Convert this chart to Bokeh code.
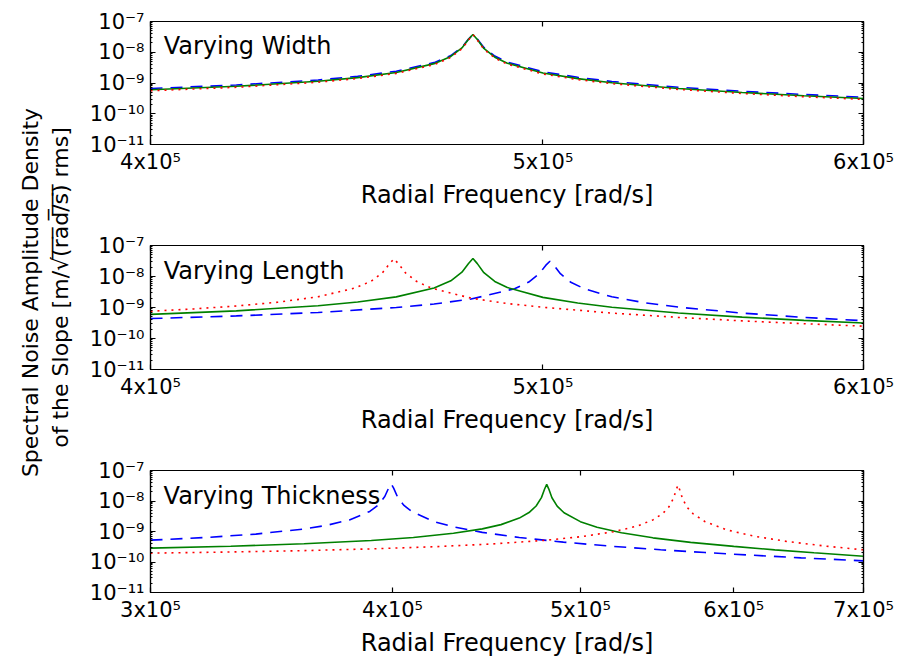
import math
from bokeh.plotting import figure
from bokeh.layouts import row, column
from bokeh.models import Range1d, FixedTicker, LogAxis, CustomJSTickFormatter, Label, ColumnDataSource
from bokeh.core.properties import value
from bokeh.embed import file_html
from bokeh.resources import INLINE

# ---------------- data (frequencies in units of 1e5 rad/s) ----------------
# Panel 1: Varying Width
width_freq = [4.0, 4.2, 4.4, 4.5, 4.6, 4.7, 4.745, 4.775, 4.793, 4.805, 4.817,
              4.835, 4.865, 4.9, 5.0, 5.1, 5.2, 5.4, 5.6, 5.8, 6.0]
width_green = [6.0e-10, 7.8e-10, 1.14e-9, 1.5e-9, 2.2e-9, 4.26e-9, 7.28e-9, 1.38e-8, 2.64e-8, 3.79e-8, 2.6e-8,
               1.33e-8, 6.9e-9, 4.4e-9, 2.12e-9, 1.39e-9, 1.02e-9, 6.65e-10, 4.9e-10, 3.85e-10, 3.15e-10]
width_blue = [6.6e-10, 8.6e-10, 1.25e-9, 1.65e-9, 2.42e-9, 4.6e-9, 7.8e-9, 1.45e-8, 2.7e-8, 3.7e-8, 2.7e-8,
              1.43e-8, 7.5e-9, 4.8e-9, 2.33e-9, 1.53e-9, 1.12e-9, 7.3e-10, 5.4e-10, 4.23e-10, 3.45e-10]
width_red = [5.6e-10, 7.25e-10, 1.06e-9, 1.4e-9, 2.05e-9, 3.96e-9, 6.8e-9, 1.3e-8, 2.5e-8, 3.8e-8, 2.5e-8,
             1.26e-8, 6.5e-9, 4.1e-9, 1.97e-9, 1.29e-9, 9.5e-10, 6.2e-10, 4.55e-10, 3.58e-10, 2.93e-10]

# Panel 2: Varying Length
length_green_freq = width_freq
length_green = width_green
length_red_freq = [4.0, 4.1, 4.2, 4.3, 4.4, 4.494, 4.534, 4.564, 4.582, 4.594, 4.606,
                   4.624, 4.654, 4.694, 4.8, 4.9, 5.0, 5.2, 5.4, 5.6, 5.8, 6.0]
length_red = [7.6e-10, 9.0e-10, 1.12e-9, 1.48e-9, 2.22e-9, 4.27e-9, 6.95e-9, 1.32e-8, 2.55e-8, 3.7e-8, 2.55e-8,
              1.31e-8, 6.87e-9, 4.18e-9, 2.0e-9, 1.34e-9, 1.02e-9, 6.6e-10, 4.8e-10, 3.7e-10, 3.0e-10, 2.5e-10]
length_blue_freq = [4.0, 4.2, 4.4, 4.6, 4.7, 4.8, 4.92, 4.96, 4.99, 5.008, 5.02,
                    5.032, 5.05, 5.08, 5.12, 5.2, 5.3, 5.4, 5.6, 5.8, 6.0]
length_blue = [4.4e-10, 5.35e-10, 6.9e-10, 1.0e-9, 1.3e-9, 1.87e-9, 4.04e-9, 6.6e-9, 1.24e-8, 2.28e-8, 3.1e-8,
               2.27e-8, 1.23e-8, 6.5e-9, 4.0e-9, 2.21e-9, 1.41e-9, 1.03e-9, 6.6e-10, 4.8e-10, 3.75e-10]

# Panel 3: Varying Thickness
thick_green_freq = [3.0, 3.3, 3.6, 3.9, 4.1, 4.3, 4.45, 4.55, 4.65, 4.704, 4.744, 4.774, 4.792, 4.804,
                    4.816, 4.834, 4.864, 4.904, 5.0, 5.1, 5.25, 5.45, 5.7, 6.0, 6.3, 6.6, 7.0]
thick_green = [2.84e-10, 3.28e-10, 3.95e-10, 5.08e-10, 6.38e-10, 8.72e-10, 1.22e-9, 1.68e-9, 2.75e-9, 4.18e-9,
               6.86e-9, 1.29e-8, 2.47e-8, 3.5e-8, 2.46e-8, 1.28e-8, 6.76e-9, 4.12e-9, 2.1e-9, 1.38e-9,
               9.1e-10, 6.2e-10, 4.4e-10, 3.25e-10, 2.5e-10, 2.0e-10, 1.55e-10]
thick_blue_freq = [3.0, 3.2, 3.4, 3.6, 3.7, 3.8, 3.893, 3.933, 3.963, 3.981, 3.993, 4.005, 4.023,
                   4.053, 4.093, 4.2, 4.3, 4.45, 4.65, 4.9, 5.2, 5.5, 5.8, 6.1, 6.5, 7.0]
thick_blue = [5.2e-10, 6.33e-10, 8.23e-10, 1.21e-9, 1.6e-9, 2.4e-9, 4.54e-9, 7.43e-9, 1.4e-8, 2.64e-8, 3.7e-8,
              2.63e-8, 1.39e-8, 7.32e-9, 4.46e-9, 2.13e-9, 1.42e-9, 9.36e-10, 6.36e-10, 4.48e-10, 3.25e-10,
              2.52e-10, 2.04e-10, 1.7e-10, 1.37e-10, 1.09e-10]
thick_red_freq = [3.0, 3.3, 3.6, 3.9, 4.2, 4.5, 4.8, 5.0, 5.2, 5.35, 5.45, 5.515, 5.555, 5.585, 5.603,
                  5.615, 5.627, 5.645, 5.675, 5.715, 5.8, 5.95, 6.15, 6.4, 6.7, 7.0]
thick_red = [1.95e-10, 2.13e-10, 2.36e-10, 2.69e-10, 3.16e-10, 3.89e-10, 5.17e-10, 6.72e-10, 9.78e-10,
             1.51e-9, 2.4e-9, 3.92e-9, 6.43e-9, 1.22e-8, 2.32e-8, 3.3e-8, 2.31e-8, 1.21e-8, 6.35e-9,
             3.87e-9, 2.08e-9, 1.13e-9, 6.97e-10, 4.65e-10, 3.29e-10, 2.51e-10]

panel_titles = ["Varying Width", "Varying Length", "Varying Thickness"]
x_ticks_wl = [4e5, 5e5, 6e5]
x_ticks_t = [3e5, 4e5, 5e5, 6e5, 7e5]
y_ticks = [1e-11, 1e-10, 1e-9, 1e-8, 1e-7]
x_label = "Radial Frequency [rad/s]"
y_label_1 = "Spectral Noise Amplitude Density"
y_label_2 = "of the Slope [m/\u221a(\u0305r\u0305a\u0305d\u0305/\u0305s\u0305)\u0305 rms]"

# ---------------- styling ----------------
FONT = "DejaVu Sans"
TICK_FS = "21px"
LABEL_FS = "24px"
YLABEL_FS = "22px"
SUP = """
const sup = {'-':'\u207b','0':'\u2070','1':'\u00b9','2':'\u00b2','3':'\u00b3','4':'\u2074',
             '5':'\u2075','6':'\u2076','7':'\u2077','8':'\u2078','9':'\u2079'};
const s = (e) => String(e).split('').map(c => sup[c]).join('');
"""
y_fmt_code = SUP + "const e = Math.round(Math.log10(tick)); return '10' + s(e);"
x_fmt_code = SUP + ("const e = Math.floor(Math.log10(tick) + 1e-9);"
                    "const m = Math.round(tick / Math.pow(10, e));"
                    "return m + 'x10' + s(e);")

y_minor = [k * 10.0 ** n for n in range(-11, -7) for k in range(2, 10)]


def style_axis(ax, labels=True):
    ax.major_tick_in = 5
    ax.major_tick_out = 0
    ax.minor_tick_in = 2
    ax.minor_tick_out = 0
    ax.major_tick_line_color = "black"
    ax.minor_tick_line_color = "black"
    ax.major_tick_line_width = 1.2
    ax.axis_line_color = "black"
    ax.axis_line_width = 1.2
    ax.major_label_text_font = FONT
    ax.major_label_text_font_size = TICK_FS
    if labels:
        ax.major_label_text_color = "black"
    else:
        ax.major_label_text_color = None
        ax.major_label_standoff = 0


def make_panel(xr, xticks, series, title, title_pos, height, top, bottom):
    p = figure(width=813, height=height, x_axis_type="log", y_axis_type="log",
               x_range=Range1d(*xr), y_range=Range1d(1e-11, 1e-7),
               toolbar_location=None, output_backend="svg",
               min_border_left=65, min_border_right=35,
               min_border_top=top, min_border_bottom=bottom)
    p.grid.visible = False
    p.outline_line_color = "black"
    p.outline_line_width = 1.2
    p.background_fill_color = "white"
    p.border_fill_color = "white"

    xt = FixedTicker(ticks=xticks, minor_ticks=[])
    yt = FixedTicker(ticks=y_ticks, minor_ticks=y_minor)
    p.xaxis.ticker = xt
    p.yaxis.ticker = yt
    p.xaxis.formatter = CustomJSTickFormatter(code=x_fmt_code)
    p.yaxis.formatter = CustomJSTickFormatter(code=y_fmt_code)
    style_axis(p.xaxis[0])
    style_axis(p.yaxis[0])
    p.xaxis.major_label_standoff = 5
    p.yaxis.major_label_standoff = 6
    p.xaxis.axis_label = x_label
    p.xaxis.axis_label_text_font = FONT
    p.xaxis.axis_label_text_font_size = LABEL_FS
    p.xaxis.axis_label_text_font_style = "normal"
    p.xaxis.axis_label_text_color = "black"
    p.xaxis.axis_label_standoff = 4

    right = LogAxis(ticker=yt, formatter=CustomJSTickFormatter(code=y_fmt_code))
    style_axis(right, labels=False)
    p.add_layout(right, "right")
    top_ax = LogAxis(ticker=xt, formatter=CustomJSTickFormatter(code=x_fmt_code))
    style_axis(top_ax, labels=False)
    p.add_layout(top_ax, "above")

    for xs, ys, color, dash in series:
        src = ColumnDataSource(dict(x=[v * 1e5 for v in xs], y=ys))
        p.line("x", "y", source=src, line_color=color, line_width=1.6, line_dash=dash)

    p.text(x=[title_pos[0]], y=[title_pos[1]], text=[title], text_font=value(FONT),
           text_font_size=LABEL_FS, text_color="black",
           text_baseline="alphabetic", text_align="left")
    return p


p1 = make_panel((4e5, 6e5), x_ticks_wl,
                [(width_freq, width_blue, "#0000ff", "12 8"),
                 (width_freq, width_green, "#008000", "solid"),
                 (width_freq, width_red, "#ff0000", "2 5")],
                panel_titles[0], (4.03e5, 1.6e-8), 222, 21, 78)
p2 = make_panel((4e5, 6e5), x_ticks_wl,
                [(length_blue_freq, length_blue, "#0000ff", "12 8"),
                 (length_green_freq, length_green, "#008000", "solid"),
                 (length_red_freq, length_red, "#ff0000", "2 5")],
                panel_titles[1], (4.03e5, 1.5e-8), 225, 23, 78)
p3 = make_panel((3e5, 7e5), x_ticks_t,
                [(thick_blue_freq, thick_blue, "#0000ff", "12 8"),
                 (thick_green_freq, thick_green, "#008000", "solid"),
                 (thick_red_freq, thick_red, "#ff0000", "2 5")],
                panel_titles[2], (3.047e5, 1.5e-8), 212, 23, 65)

lab = figure(width=85, height=659, x_range=Range1d(0, 85), y_range=Range1d(0, 659),
             toolbar_location=None, output_backend="svg",
             min_border_left=0, min_border_right=0, min_border_top=0, min_border_bottom=0)
lab.axis.visible = False
lab.grid.visible = False
lab.outline_line_color = None
lab.add_layout(Label(x=30, y=367, text=y_label_1, angle=math.pi / 2, text_font=FONT,
                     text_font_size=YLABEL_FS, text_color="black",
                     text_align="center", text_baseline="middle"))
lab.add_layout(Label(x=60, y=372, text=y_label_2, angle=math.pi / 2, text_font=FONT,
                     text_font_size=YLABEL_FS, text_color="black",
                     text_align="center", text_baseline="middle"))

layout = row(lab, column(p1, p2, p3, spacing=0), spacing=0)
open("out.html", "w").write(file_html(layout, INLINE))
